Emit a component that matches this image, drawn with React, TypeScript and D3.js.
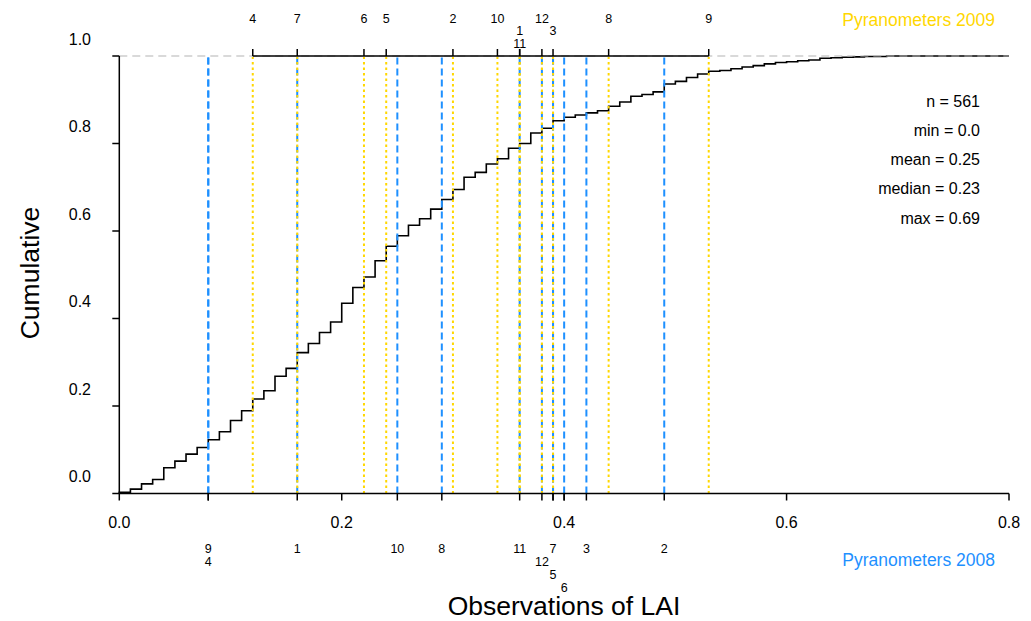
import React from "react";
import * as d3 from "d3";

// ECDF of LAI observations (step positions and cumulative proportions)
const laiSteps = [
  0.0, 0.01, 0.02, 0.03, 0.04, 0.05, 0.06, 0.07, 0.08, 0.09,
  0.1, 0.11, 0.12, 0.13, 0.14, 0.15, 0.16, 0.17, 0.18, 0.19,
  0.2, 0.21, 0.22, 0.23, 0.24, 0.25, 0.26, 0.27, 0.28, 0.29,
  0.3, 0.31, 0.32, 0.33, 0.34, 0.35, 0.36, 0.37, 0.38, 0.39,
  0.4, 0.41, 0.42, 0.43, 0.44, 0.45, 0.46, 0.47, 0.48, 0.49,
  0.5, 0.51, 0.52, 0.53, 0.54, 0.55, 0.56, 0.57, 0.58, 0.59,
  0.6, 0.61, 0.62, 0.63, 0.64, 0.65, 0.66, 0.67, 0.68, 0.69,
];
const cumulative = [
  0.003, 0.01, 0.022, 0.032, 0.059, 0.074, 0.09, 0.105, 0.123, 0.141,
  0.167, 0.189, 0.216, 0.235, 0.268, 0.286, 0.322, 0.343, 0.368, 0.392,
  0.435, 0.471, 0.495, 0.532, 0.565, 0.589, 0.613, 0.628, 0.65, 0.672,
  0.695, 0.723, 0.734, 0.753, 0.765, 0.789, 0.8, 0.824, 0.835, 0.852,
  0.86, 0.865, 0.87, 0.875, 0.885, 0.895, 0.908, 0.912, 0.918, 0.936,
  0.942, 0.951, 0.959, 0.965, 0.967, 0.971, 0.975, 0.978, 0.982, 0.985,
  0.987, 0.989, 0.991, 0.995, 0.996, 0.997, 0.998, 0.999, 0.999, 1.0,
];

// Pyranometer LAI values
const sensors2009 = ["4", "7", "6", "5", "2", "10", "1", "11", "12", "3", "8", "9"];
const lai2009 = [0.12, 0.16, 0.22, 0.24, 0.3, 0.34, 0.36, 0.36, 0.38, 0.39, 0.44, 0.53];
const sensors2008 = ["9", "4", "1", "10", "8", "11", "12", "7", "5", "6", "3", "2"];
const lai2008 = [0.08, 0.08, 0.16, 0.25, 0.29, 0.36, 0.38, 0.39, 0.39, 0.4, 0.42, 0.49];

const xTicks = [0, 0.2, 0.4, 0.6, 0.8];
const yTicks = [0, 0.2, 0.4, 0.6, 0.8, 1.0];
const statsLines = ["n = 561", "min = 0.0", "mean = 0.25", "median = 0.23", "max = 0.69"];

const GOLD = "#FFD700";
const BLUE = "#1E90FF";
const FONT = "'Liberation Sans', Arial, sans-serif";

function stackRows(sensors: string[], vals: number[], xs: (v: number) => number, charW: number, pad: number) {
  const placed: { x: number; w: number; row: number }[] = [];
  return sensors.map((s, i) => {
    const x = xs(vals[i]);
    const w = s.length * charW;
    let row = 0;
    while (placed.some((p) => p.row === row && Math.abs(p.x - x) < (p.w + w) / 2 + pad)) row++;
    placed.push({ x, w, row });
    return { s, x, row };
  });
}

export default function App() {
  const W = 1031;
  const H = 621;
  const x = d3.scaleLinear().domain([0, 0.8]).range([119.3, 1009]);
  const y = d3.scaleLinear().domain([0, 1]).range([493.5, 56]);

  const pts: [number, number][] = [[0, 0]];
  laiSteps.forEach((v, i) => pts.push([v, cumulative[i]]));
  pts.push([0.8, cumulative[cumulative.length - 1]]);
  const line = d3
    .line<[number, number]>()
    .x((d) => x(d[0]))
    .y((d) => y(d[1]))
    .curve(d3.curveStepAfter);

  const labelFont = 12.5;
  const top = stackRows(sensors2009, lai2009, x, 7, 13);
  const bottom = stackRows(sensors2008, lai2008, x, 7, 13);

  const x0 = x(0);
  const y0 = y(0);
  const y1 = y(1);
  const tickLen = 7;

  return (
    <svg width={W} height={H} style={{ position: "absolute", left: 0, top: 0, background: "#fff" }} fontFamily={FONT}>
      <rect x={0} y={0} width={W} height={H} fill="#fff" />
      {/* ECDF */}
      <path d={line(pts) || ""} fill="none" stroke="#000" strokeWidth={1.6} />
      {/* reference dashed line at 1 */}
      <line x1={x0} x2={x(0.8)} y1={y1} y2={y1} stroke="#b3b3b3" strokeWidth={1.2} strokeDasharray="8,5" />
      {/* 2008 lines */}
      {lai2008.map((v, i) => (
        <line key={"b" + i} x1={x(v)} x2={x(v)} y1={y0} y2={y1 + 1} stroke={BLUE} strokeWidth={2} strokeDasharray="7,4" />
      ))}
      {/* 2009 lines */}
      {lai2009.map((v, i) => (
        <line key={"g" + i} x1={x(v)} x2={x(v)} y1={y0} y2={y1 + 1} stroke={GOLD} strokeWidth={2} strokeDasharray="2.5,3" />
      ))}
      {/* left axis */}
      <line x1={x0} x2={x0} y1={y0} y2={y1} stroke="#000" strokeWidth={1.5} />
      {yTicks.map((t) => (
        <g key={"yt" + t}>
          <line x1={x0 - tickLen} x2={x0} y1={y(t)} y2={y(t)} stroke="#000" strokeWidth={1.5} />
          <text x={91} y={y(t) - 17} textAnchor="end" dominantBaseline="central" fontSize={16}>
            {t.toFixed(1)}
          </text>
        </g>
      ))}
      {/* bottom axis */}
      <line x1={x0} x2={x(0.8)} y1={y0} y2={y0} stroke="#000" strokeWidth={1.5} />
      {xTicks.map((t) => (
        <g key={"xt" + t}>
          <line x1={x(t)} x2={x(t)} y1={y0} y2={y0 + tickLen} stroke="#000" strokeWidth={1.5} />
          <text x={x(t)} y={522} textAnchor="middle" dominantBaseline="central" fontSize={16}>
            {t.toFixed(1)}
          </text>
        </g>
      ))}
      {lai2008.map((v, i) => (
        <line key={"bt" + i} x1={x(v)} x2={x(v)} y1={y0} y2={y0 + tickLen} stroke="#000" strokeWidth={1.5} />
      ))}
      {bottom.map((l, i) => (
        <text key={"bl" + i} x={l.x} y={549 + l.row * 13} textAnchor="middle" dominantBaseline="central" fontSize={labelFont}>
          {l.s}
        </text>
      ))}
      {/* top axis for 2009 */}
      <line x1={x(d3.min(lai2009)!)} x2={x(d3.max(lai2009)!)} y1={y1} y2={y1} stroke="#000" strokeWidth={1.5} />
      {lai2009.map((v, i) => (
        <line key={"gt" + i} x1={x(v)} x2={x(v)} y1={y1} y2={y1 - tickLen} stroke="#000" strokeWidth={1.5} />
      ))}
      {top.map((l, i) => (
        <text key={"tl" + i} x={l.x} y={18.5 + l.row * 12.7} textAnchor="middle" dominantBaseline="central" fontSize={labelFont}>
          {l.s}
        </text>
      ))}
      {/* legends */}
      <text x={995} y={20} textAnchor="end" dominantBaseline="central" fontSize={17.5} fill={GOLD}>
        Pyranometers 2009
      </text>
      <text x={995} y={560} textAnchor="end" dominantBaseline="central" fontSize={17.5} fill={BLUE}>
        Pyranometers 2008
      </text>
      {/* stats */}
      {statsLines.map((s, i) => (
        <text key={"st" + i} x={980} y={101 + i * 29.3} textAnchor="end" dominantBaseline="central" fontSize={16}>
          {s}
        </text>
      ))}
      {/* axis titles */}
      <text x={564} y={606} textAnchor="middle" dominantBaseline="central" fontSize={26.5}>
        Observations of LAI
      </text>
      <text
        transform={`translate(30,273) rotate(-90)`}
        textAnchor="middle"
        dominantBaseline="central"
        fontSize={26.5}
      >
        Cumulative
      </text>
    </svg>
  );
}
